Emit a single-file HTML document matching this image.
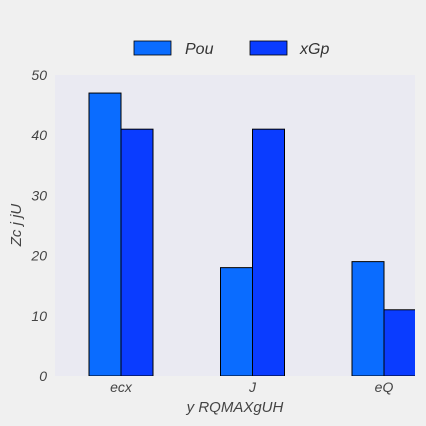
<!DOCTYPE html>
<html><head><meta charset="utf-8"><style>
body{margin:0;background:#f0f0f0;}
svg{display:block;font-family:"Liberation Sans",sans-serif;}
</style></head><body>
<svg id="c" width="426" height="426">
<rect x="0" y="0" width="426" height="426" fill="#f0f0f0"/>
<rect x="55" y="75" width="360" height="301" fill="#eaeaf2"/>
<g id="bars" clip-path="url(#clip)"></g>
<defs><clipPath id="clip"><rect x="55" y="75" width="360" height="301"/></clipPath></defs>
<g id="ticks"></g>
<text x="235" y="412" text-anchor="middle" font-size="15" font-style="italic" fill="#444">y RQMAXgUH</text>
<text transform="translate(21,225) rotate(-90)" text-anchor="middle" font-size="15" font-style="italic" fill="#444">Zc j jU</text>
<g>
<g><rect x="134" y="41" width="37" height="14" fill="#0a6cff" stroke="#000" stroke-width="0.8"/><text x="185" y="54" font-size="16" font-style="italic" fill="#333">Pou</text></g>
<g><rect x="250" y="41" width="37" height="14" fill="#0a3cff" stroke="#000" stroke-width="0.8"/><text x="300" y="54" font-size="16" font-style="italic" fill="#333">xGp</text></g>
</g>
</svg>
<script>
const categories=["ecx","J","eQ"];
const pouValues=[47,18,19];
const xgpValues=[41,41,11];
const yTicks=[0,10,20,30,40,50];
const NS="http://www.w3.org/2000/svg";
const yS=v=>376-v*301/50;
const xC=i=>121+i*131.5;
const bars=document.getElementById('bars'),ticks=document.getElementById('ticks');
function mk(t,a,p){const e=document.createElementNS(NS,t);for(const k in a)e.setAttribute(k,a[k]);p.appendChild(e);return e;}
[[pouValues,"#0a6cff",-32,"pou"],[xgpValues,"#0a3cff",0,"xgp"]].forEach(([vals,col,off,nm])=>{
vals.forEach((v,i)=>{const r=mk('rect',{x:xC(i)+off,y:yS(v),width:32,height:376-yS(v),fill:col,stroke:"#000","stroke-width":1},bars);

});});
yTicks.forEach(t=>{const e=mk('text',{x:47,y:yS(t)+5,"text-anchor":"end","font-size":14,"font-style":"italic",fill:"#444"},ticks);e.textContent=t;

});
categories.forEach((c,i)=>{const e=mk('text',{x:xC(i),y:392,"text-anchor":"middle","font-size":14,"font-style":"italic",fill:"#444"},ticks);e.textContent=c;

});
</script>
</body></html>
